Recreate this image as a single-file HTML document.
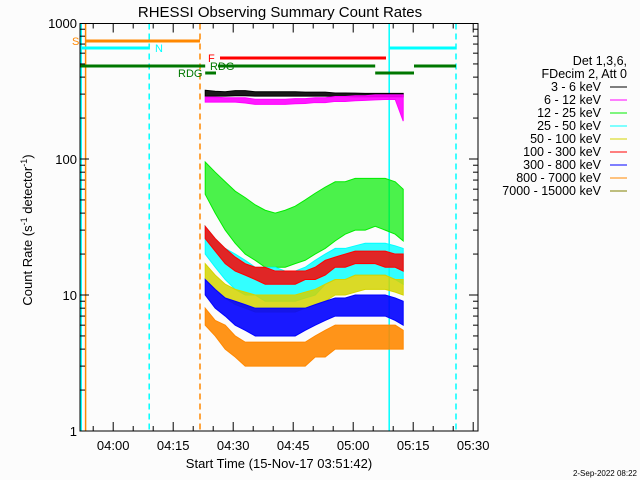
<!DOCTYPE html>
<html><head><meta charset="utf-8"><style>
html,body{margin:0;padding:0;background:#fcfcfc;}
svg{display:block;font-family:"Liberation Sans",sans-serif;}
</style></head><body>
<svg id="chart" width="640" height="480" viewBox="0 0 640 480">
<rect width="640" height="480" fill="#fcfcfc"/>
<text x="280" y="17" font-size="15" text-anchor="middle">RHESSI Observing Summary Count Rates</text>
<g id="grid"></g>
<g id="flags"></g>
<g id="series"></g>
<g id="axes"></g>
<g id="legend"></g>
<text x="32" y="230" font-size="13" text-anchor="middle" transform="rotate(-90 32 230)">Count Rate (s<tspan dy="-5" font-size="9">-1</tspan><tspan dy="5"> detector</tspan><tspan dy="-5" font-size="9">-1</tspan><tspan dy="5">)</tspan></text>
<text x="279" y="468" font-size="13" text-anchor="middle">Start Time (15-Nov-17 03:51:42)</text>
<text x="637" y="476" font-size="8" text-anchor="end">2-Sep-2022 08:22</text>
</svg>
<script>
// time in minutes since 03:51:42
const seriesTimes = [31.3,33.8,36.3,38.8,41.3,43.8,46.3,48.8,51.3,53.8,56.3,58.8,61.3,63.8,66.3,68.8,71.3,73.8,76.3,78.8,80.8];
const seriesNames = ["3 - 6 keV","6 - 12 keV","12 - 25 keV","25 - 50 keV","50 - 100 keV","100 - 300 keV","300 - 800 keV","800 - 7000 keV","7000 - 15000 keV"];
const seriesColors = ["#000000","#ff00ff","#00ee00","#00ffff","#d4d400","#ff0000","#0000ff","#ff8800","#808000"];
const blackHi = [320,315,312,318,318,312,312,312,312,312,310,310,310,306,306,305,304,304,304,304,304];
const blackLo = [290,290,290,292,292,290,290,290,290,290,290,290,290,288,288,286,286,286,286,286,286];
const magentaHi = [285,285,282,282,282,275,275,275,275,278,278,282,282,288,288,292,292,296,296,296,296];
const magentaLo = [262,262,262,262,258,252,252,252,252,255,256,260,260,265,265,268,270,272,274,274,190];
const greenHi = [95,80,68,58,52,46,42,40,42,45,50,56,62,68,68,72,72,72,72,68,60];
const greenLo = [55,40,30,24,20,18,16,16,16,17,18,20,22,25,28,30,30,32,30,28,25];
const cyanHi = [32,26,22,20,18,16,16,16,15,15,16,18,20,22,22,23,24,24,24,23,22];
const cyanLo = [20,16,13,11,10,10,9,9,9,9,9.5,10,12,13,13,14,14,14,14,13,12];
const yellowHi = [17,14,12,11,10.5,10,10,10,10,10,10.5,11,12,13,13,14,14,14,14,13,13];
const yellowLo = [13,11,9.5,8.5,8,7.5,7.5,7.5,7.5,7.5,8,8.5,9,10,10,10.5,11,11,11,10.5,10];
const redHi = [32,26,22,19,17,16,16,15,15,15,15,16,18,19,20,21,21,21,21,20,20];
const redLo = [26,21,17,15,14,13,12,12,12,12,13,13,14,16,16,17,17,17,16,16,15];
const blueHi = [13,11,9.5,9,8.5,8,8,8,8,8,8,8.5,9,9.5,9.5,10,10,10,10,9.5,9];
const blueLo = [10,8,7,6,5.5,5,5,5,5,5,5.5,6,6.5,7,7,7,7,7,7,6.5,6];
const orangeHi = [8,6.5,6,5,4.5,4.5,4.5,4.5,4.5,4.5,4.5,5,5.5,6,6,6,6,6,6,6,5.5];
const orangeLo = [6,5,4,3.5,3,3,3,3,3,3,3,3.5,3.5,4,4,4,4,4,4,4,4];
const xTickLabels = ["04:00","04:15","04:30","04:45","05:00","05:15","05:30"];
const xTickMinutes = [8.3,23.3,38.3,53.3,68.3,83.3,98.3];
const yTickValues = [1,10,100,1000];

const NS="http://www.w3.org/2000/svg";
const L=80,R=478,T=23.5,B=431;
const xs=m=>L+4*m;
const ys=v=>B-136*Math.log10(v);
function el(tag,attrs,parent){const e=document.createElementNS(NS,tag);for(const k in attrs)e.setAttribute(k,attrs[k]);parent.appendChild(e);return e;}
const flags=document.getElementById('flags'),ser=document.getElementById('series'),axes=document.getElementById('axes'),leg=document.getElementById('legend');

const vlines=[[0.3,"#00ffff",""],[1.4,"#ff8800",""],[17.3,"#00ffff","6,4"],[30,"#ff8800","6,4"],[77.3,"#00ffff",""],[94,"#00ffff","6,4"]];
vlines.forEach(v=>{const l=el('line',{x1:xs(v[0]),x2:xs(v[0]),y1:T,y2:B,stroke:v[1],'stroke-width':1.5,'stroke-dasharray':v[2]},flags);

});
const bars=[[1.4,30,41,"#ff8800"],[0,17.3,48,"#00ffff"],[77.3,94,48,"#00ffff"],[35,76.5,58,"#ff0000"],[0,31.3,66,"#007700"],[34.5,73.8,66,"#007700"],[83.5,94,66,"#007700"],[31.3,34,73,"#007700"],[73.8,83.5,73,"#007700"]];
bars.forEach(b=>{const l=el('line',{x1:xs(b[0]),x2:xs(b[1]),y1:b[2],y2:b[2],stroke:b[3],'stroke-width':3},flags);

});
const flabels=[[72,45,"S","#ff8800"],[155,52,"N","#00ffff"],[208,62,"F","#ff0000"],[210,70,"RDG","#007700"],[178,77,"RDG","#007700"]];
flabels.forEach(f=>{const t=el('text',{x:f[0],y:f[1],fill:f[3],'font-size':11},flags);t.textContent=f[2];

});

const bands=[[blackHi,blackLo,0,0.9],[magentaHi,magentaLo,1,0.9],[greenHi,greenLo,2,0.7],[cyanHi,cyanLo,3,0.8],[yellowHi,yellowLo,4,0.85],[redHi,redLo,5,0.85],[blueHi,blueLo,6,0.9],[orangeHi,orangeLo,7,0.9]];
bands.forEach(b=>{const hi=b[0],lo=b[1],c=seriesColors[b[2]];
let pts=seriesTimes.map((t,i)=>xs(t)+','+ys(hi[i]));
pts=pts.concat(seriesTimes.map((t,i)=>xs(t)+','+ys(lo[i])).reverse());
const p=el('polygon',{points:pts.join(' '),fill:c,stroke:c,'stroke-width':1,'fill-opacity':b[3]},ser);

});

const fr=el('rect',{x:L,y:T,width:R-L,height:B-T,fill:'none',stroke:'#000','stroke-width':1},axes);


for(let m=8.3-5;m<=99.5;m+=5){const maj=Math.abs(((m-8.3)/15)-Math.round((m-8.3)/15))<0.01;const len=maj?9:5;
el('line',{x1:xs(m),x2:xs(m),y1:B,y2:B-len,stroke:'#000'},axes);el('line',{x1:xs(m),x2:xs(m),y1:T,y2:T+len,stroke:'#000'},axes);}
xTickLabels.forEach((s,i)=>{const t=el('text',{x:xs(xTickMinutes[i]),y:450,'font-size':13,'text-anchor':'middle'},axes);t.textContent=s;

});
for(let d=0;d<3;d++)for(let k=1;k<10;k++){const v=k*Math.pow(10,d);const len=k==1?9:5;
el('line',{x1:L,x2:L+len,y1:ys(v),y2:ys(v),stroke:'#000'},axes);el('line',{x1:R,x2:R-len,y1:ys(v),y2:ys(v),stroke:'#000'},axes);}
yTickValues.forEach(v=>{const t=el('text',{x:L-3,y:ys(v)+5,'font-size':13,'text-anchor':'end'},axes);t.textContent=v;

});

[["Det 1,3,6,",61],["FDecim 2, Att 0",74]].forEach(h=>{const t=el('text',{x:627,y:h[1]+4,'font-size':12.5,'text-anchor':'end'},leg);t.textContent=h[0];

});
seriesNames.forEach((n,i)=>{const y=87+13*i;const t=el('text',{x:601,y:y+4,'font-size':12.5,'text-anchor':'end'},leg);t.textContent=n;


el('line',{x1:610,x2:627,y1:y,y2:y,stroke:seriesColors[i],'stroke-width':1},leg);});
</script>
</body></html>
